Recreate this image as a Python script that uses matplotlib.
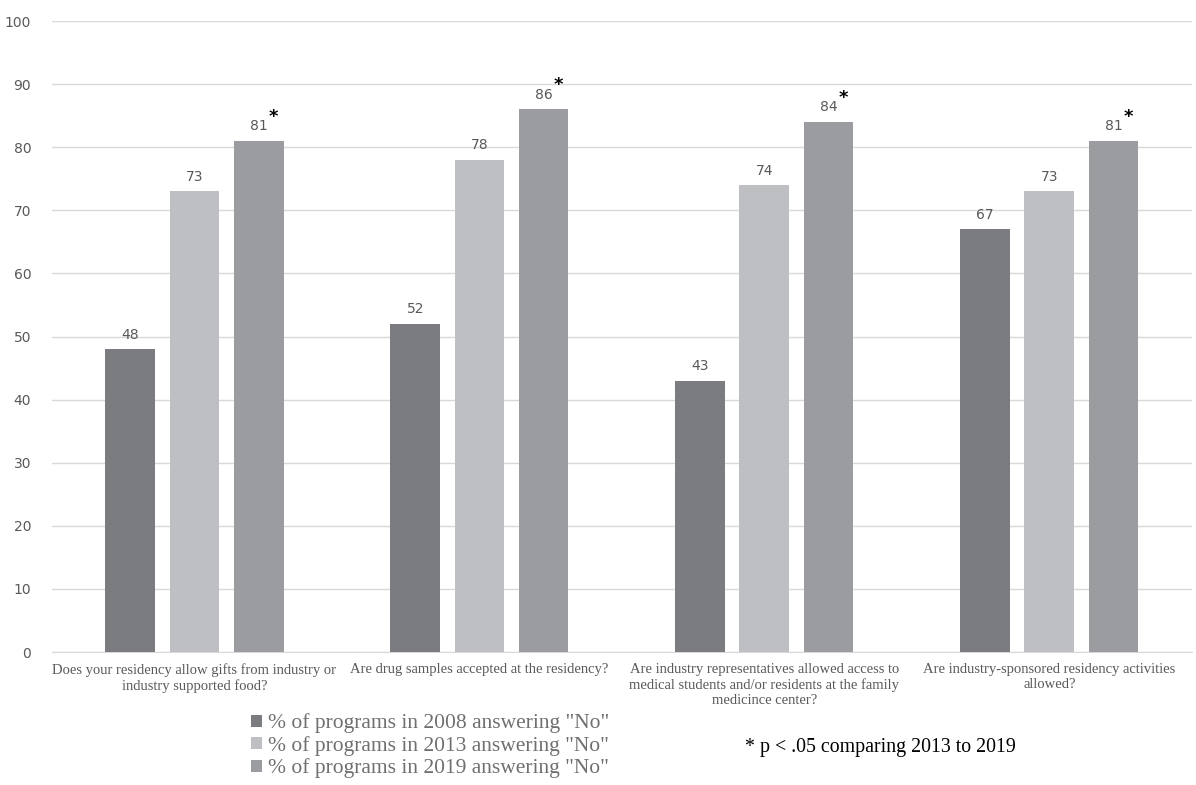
import matplotlib
matplotlib.use("Agg")
import matplotlib.pyplot as plt
import numpy as np

# data
categories = [
    "Does your residency allow gifts from industry or\nindustry supported food?",
    "Are drug samples accepted at the residency?",
    "Are industry representatives allowed access to\nmedical students and/or residents at the family\nmedicince center?",
    "Are industry-sponsored residency activities\nallowed?",
]
series_names = [
    '% of programs in 2008 answering "No"',
    '% of programs in 2013 answering "No"',
    '% of programs in 2019 answering "No"',
]
vals_2008 = [48, 52, 43, 67]
vals_2013 = [73, 78, 74, 73]
vals_2019 = [81, 86, 84, 81]
significant_2019 = [True, True, True, True]

colors = ["#7b7c80", "#bebfc3", "#9b9ca0"]
text_gray = "#595959"

fig = plt.figure(figsize=(11.96, 7.85), dpi=100)
ax = fig.add_axes([0.0435, 0.1694, 0.953, 0.8038])

x = np.arange(len(categories))
w = 0.175
step = 0.225
all_series = [vals_2008, vals_2013, vals_2019]
for i, (vals, c, name) in enumerate(zip(all_series, colors, series_names)):
    pos = x + (i - 1) * step
    ax.bar(pos, vals, width=w, color=c, label=name, zorder=3)
    for j, (px, v) in enumerate(zip(pos, vals)):
        ax.text(px, v + 1.2, str(v), ha="center", va="bottom", fontsize=10,
                color=text_gray, family="DejaVu Sans")
        if i == 2 and significant_2019[j]:
            ax.text(px + 0.034, v + 2.4, "*", ha="left", va="bottom",
                    fontsize=13, color="black", fontweight="bold")

ax.set_xlim(-0.5, len(categories) - 0.5)
ax.set_ylim(0, 100)
ax.set_yticks(range(0, 101, 10))
ax.yaxis.grid(True, color="#d9d9d9", lw=1, zorder=0)
ax.tick_params(axis="y", length=0, labelsize=10, labelcolor=text_gray, pad=15)
ax.tick_params(axis="x", length=0, pad=8)
ax.set_xticks(x)
ax.set_xticklabels(categories, family="Liberation Serif", fontsize=10.5,
                   color=text_gray, linespacing=1.22)
for s in ["top", "right", "left"]:
    ax.spines[s].set_visible(False)
ax.spines["bottom"].set_color("#d9d9d9")

leg = fig.legend(loc="upper left", bbox_to_anchor=(0.21, 0.091), frameon=False,
                 prop={"family": "Liberation Serif", "size": 15.5},
                 handlelength=0.5, handleheight=0.5, handletextpad=0.3,
                 labelspacing=0.12, borderaxespad=0, borderpad=0)
for t in leg.get_texts():
    t.set_color("#707070")

fig.text(0.623, 0.048, "* p < .05 comparing 2013 to 2019", family="Liberation Serif",
         fontsize=14.3, color="black", ha="left", va="center")

fig.savefig("out.png", dpi=100)
